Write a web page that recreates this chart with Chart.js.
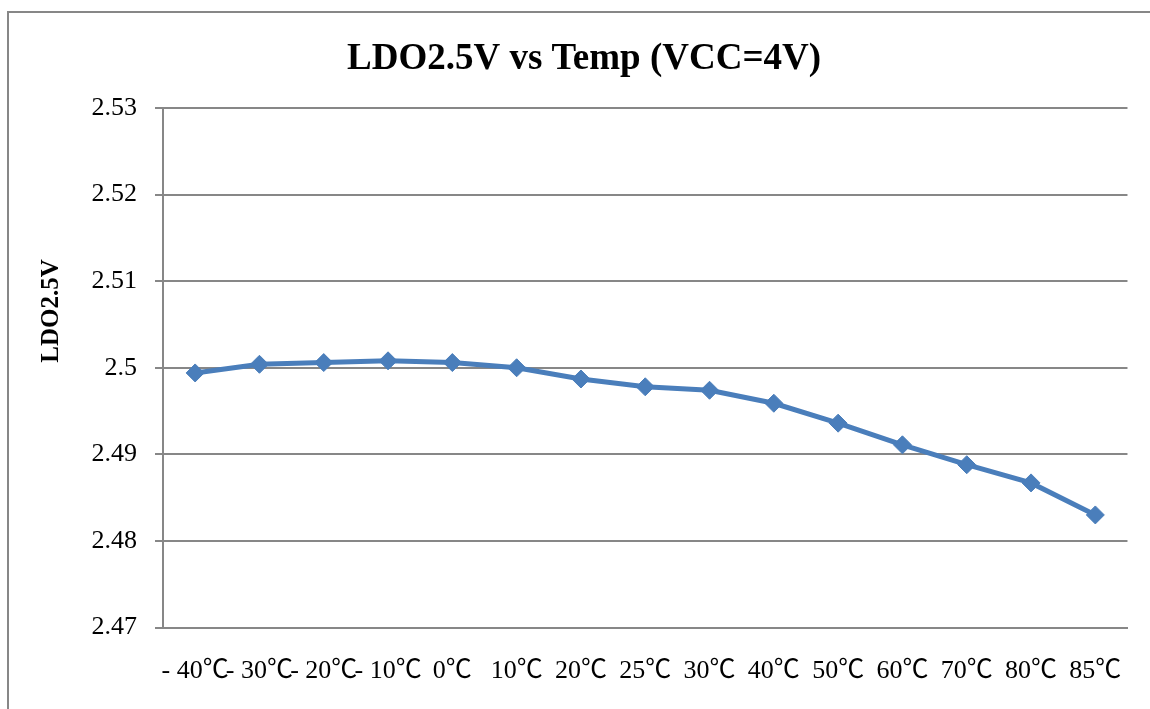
<!DOCTYPE html>
<html>
<head>
<meta charset="utf-8">
<script src="https://cdn.jsdelivr.net/npm/chart.js@4/dist/chart.umd.min.js"></script>
<style>
html,body{margin:0;padding:0;background:#fff;}
#wrap{width:1150px;height:709px;position:relative;}
</style>
</head>
<body>
<div id="wrap"><canvas id="c" width="1150" height="709"></canvas></div>
<script>
const categories = ["- 40℃","- 30℃","- 20℃","- 10℃","0℃","10℃","20℃","25℃","30℃","40℃","50℃","60℃","70℃","80℃","85℃"];
const ldoValues = [2.4994, 2.5004, 2.5006, 2.5008, 2.5006, 2.5000, 2.4987, 2.4978, 2.4974, 2.4959, 2.4936, 2.4911, 2.4888, 2.4867, 2.4830];
const yTicks = [2.47, 2.48, 2.49, 2.50, 2.51, 2.52, 2.53];
const chartTitle = "LDO2.5V vs Temp (VCC=4V)";
const yAxisTitle = "LDO2.5V";

const FONT = "'Liberation Serif', 'Times New Roman', 'Noto Sans CJK SC', serif";

const decor = {
  id: 'decor',
  beforeDraw(chart) {
    const ctx = chart.ctx;
    ctx.save();
    ctx.fillStyle = '#fff';
    ctx.fillRect(0, 0, chart.width, chart.height);
    ctx.strokeStyle = '#878787';
    ctx.lineWidth = 2;
    ctx.strokeRect(8, 12, 1300, 900);
    ctx.restore();
  },
  afterDraw(chart) {
    const ctx = chart.ctx;
    ctx.save();
    ctx.fillStyle = '#000';
    ctx.font = "bold 37px " + FONT;
    ctx.textAlign = 'center';
    ctx.textBaseline = 'alphabetic';
    ctx.fillText(chartTitle, 584, 69);
    ctx.translate(58, 311);
    ctx.rotate(-Math.PI / 2);
    ctx.font = "bold 25px " + FONT;
    ctx.textBaseline = 'alphabetic';
    ctx.fillText(yAxisTitle, 0, 0);
    ctx.restore();
  }
};

new Chart(document.getElementById('c'), {
  type: 'line',
  data: {
    labels: categories,
    datasets: [{
      data: ldoValues,
      borderColor: '#4a7ebb',
      backgroundColor: '#4a7ebb',
      borderWidth: 5,
      tension: 0,
      pointStyle: 'rectRot',
      pointRadius: 9,
      pointBorderWidth: 1,
      pointBorderColor: '#4a7ebb',
      pointBackgroundColor: '#4a7ebb',
      fill: false
    }]
  },
  options: {
    responsive: false,
    animation: false,
    devicePixelRatio: 1,
    layout: { padding: { left: 0, right: 20, top: 108, bottom: 0 } },
    plugins: { legend: { display: false }, title: { display: false }, tooltip: { enabled: false } },
    scales: {
      x: {
        type: 'category',
        offset: true,
        grid: { display: false, drawTicks: false },
        border: { display: true, color: '#878787', width: 2 },
        ticks: {
          autoSkip: false, maxRotation: 0, minRotation: 0,
          color: '#000', padding: 28,
          font: { family: FONT, size: 26 }
        },
        afterFit(scale) { scale.height = 709 - 627.5; }
      },
      y: {
        min: 2.47, max: 2.53,
        afterBuildTicks(scale) { scale.ticks = yTicks.map(v => ({ value: v })); },
        grid: { color: '#878787', lineWidth: 2, drawTicks: true, tickLength: 8, tickColor: '#878787' },
        border: { display: true, color: '#878787', width: 2 },
        ticks: {
          color: '#000', padding: 18,
          font: { family: FONT, size: 26 },
          callback(v) { return String(Math.round(v * 100) / 100); }
        },
        afterFit(scale) { scale.width = 163; }
      }
    }
  },
  plugins: [decor]
});
</script>
</body>
</html>
